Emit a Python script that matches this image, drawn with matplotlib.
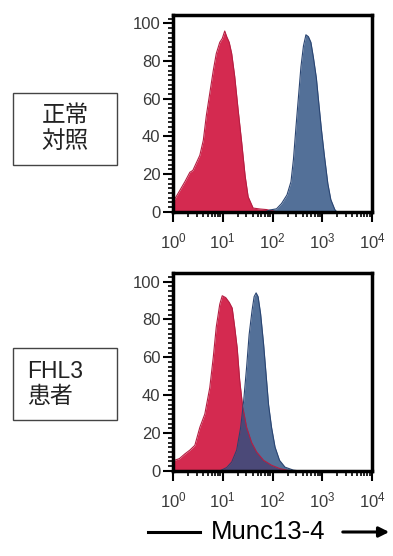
import numpy as np
import matplotlib.pyplot as plt
from matplotlib.patches import Rectangle, FancyArrowPatch
from matplotlib.ticker import MultipleLocator, LogLocator, NullFormatter

plt.rcParams['font.family'] = ['Liberation Sans', 'Noto Sans CJK JP', 'DejaVu Sans']
plt.rcParams['mathtext.default'] = 'regular'

# histogram outlines (x in log10 units, y = % of max)
ctrl_red_logx = [0.0, 0.0, 0.03, 0.13, 0.24, 0.34, 0.40, 0.47, 0.54, 0.61, 0.67, 0.74, 0.81,
                 0.87, 0.94, 0.99, 1.04, 1.08, 1.13, 1.18, 1.24, 1.31, 1.38, 1.45, 1.51,
                 1.61, 1.75, 1.88, 2.0, 2.08]
ctrl_red_y = [0, 26, 6.5, 11, 16, 21, 22, 26, 30, 38, 51, 63, 75,
              84, 90, 92, 96, 93, 90, 84, 72, 54, 37, 19, 8,
              2, 1.5, 1.2, 0.5, 0]
ctrl_blue_logx = [1.85, 1.95, 2.08, 2.18, 2.29, 2.37, 2.42, 2.47, 2.52, 2.57, 2.62, 2.67,
                  2.72, 2.77, 2.82, 2.88, 2.92, 2.98, 3.04, 3.11, 3.17, 3.25, 3.29]
ctrl_blue_y = [0, 1, 1.6, 4.4, 9, 16, 28, 45, 61, 77, 88, 94,
               93, 90, 82, 71, 60, 44, 30, 15, 6.5, 1.2, 0]

pt_red_logx = [0.0, 0.0, 0.03, 0.13, 0.24, 0.34, 0.44, 0.54, 0.64, 0.74, 0.81, 0.87, 0.94,
               0.99, 1.06, 1.13, 1.19, 1.24, 1.29, 1.34, 1.40, 1.48, 1.58, 1.68, 1.82,
               1.98, 2.15, 2.35]
pt_red_y = [0, 12, 5.6, 6.5, 9, 11, 13.5, 23, 30, 44, 60, 76, 88,
            92.5, 91.5, 89, 86, 76, 65, 48, 34, 23, 15, 10, 5.6,
            3, 1.2, 0]
pt_blue_logx = [0.94, 1.08, 1.18, 1.28, 1.36, 1.42, 1.48, 1.53, 1.59, 1.63, 1.67, 1.71,
                1.76, 1.82, 1.87, 1.92, 1.98, 2.05, 2.14, 2.25, 2.42, 2.55]
pt_blue_y = [0, 1.8, 4.7, 11, 23, 37, 55, 72, 85, 92, 94, 92,
             83, 67, 51, 35, 23, 12.6, 5.6, 2, 0.4, 0]

panels = [
    ('正常\n対照', 'center', ctrl_red_logx, ctrl_red_y, ctrl_blue_logx, ctrl_blue_y),
    ('FHL3\n患者', 'left', pt_red_logx, pt_red_y, pt_blue_logx, pt_blue_y),
]

red = '#D42A50'
red_edge = '#B51E42'
blue = '#2D5082'
blue_edge = '#2A4572'
tick_color = '#3a3a3a'

fig = plt.figure(figsize=(3.93, 5.56), dpi=100)
ax_rects = [[0.440, 0.619, 0.507, 0.354], [0.440, 0.153, 0.507, 0.356]]
box_rects = [[0.033, 0.703, 0.265, 0.130], [0.033, 0.245, 0.265, 0.129]]

for (label, align, rx, ry, bx, by), rect, box in zip(panels, ax_rects, box_rects):
    ax = fig.add_axes(rect)
    rxv = 10 ** np.array(rx)
    bxv = 10 ** np.array(bx)
    ax.fill_between(rxv, ry, color=red, lw=0)
    ax.plot(rxv, ry, color=red_edge, lw=0.8)
    ax.fill_between(bxv, by, color=blue, alpha=0.82, lw=0)
    ax.plot(bxv, by, color=blue_edge, lw=0.8)

    ax.set_xscale('log')
    ax.set_xlim(1, 1e4)
    ax.set_ylim(0, 104.5)
    ax.set_yticks([0, 20, 40, 60, 80, 100])
    ax.yaxis.set_minor_locator(MultipleLocator(2.5))
    ax.xaxis.set_minor_locator(LogLocator(base=10, subs=np.arange(2, 10), numticks=10))
    ax.xaxis.set_minor_formatter(NullFormatter())
    ax.set_xticks([1, 10, 100, 1000, 10000])
    ax.set_xticklabels([r'$10^0$', r'$10^1$', r'$10^2$', r'$10^3$', r'$10^4$'])

    for s in ax.spines.values():
        s.set_linewidth(2.5)
        s.set_color('black')
    ax.tick_params(axis='both', which='major', direction='out', length=7, width=1.5,
                   colors='black', labelcolor=tick_color, labelsize=12)
    ax.tick_params(axis='both', which='minor', direction='out', length=3.5, width=1.2,
                   colors='black')
    ax.tick_params(axis='x', which='major', pad=7)
    ax.tick_params(axis='y', which='major', pad=2)

    fig.patches.append(Rectangle((box[0], box[1]), box[2], box[3], transform=fig.transFigure,
                                 fill=False, edgecolor='#444444', lw=1))
    if align == 'center':
        fig.text(box[0] + box[2] / 2, box[1] + box[3] / 2, label, ha='center', va='center',
                 fontsize=17, linespacing=1.2, color='#222222')
    else:
        fig.text(box[0] + 0.037, box[1] + box[3] / 2, label, ha='left', va='center',
                 fontsize=16.5, linespacing=1.15, color='#222222')

# axis label with arrows
y_lab = 1 - 532 / 556
fig.text(0.682, y_lab, 'Munc13-4', ha='center', va='center', fontsize=18.5)
fig.add_artist(plt.Line2D([148 / 393, 200 / 393], [y_lab, y_lab], color='black', lw=2.2,
                          transform=fig.transFigure))
fig.patches.append(FancyArrowPatch(
    (340 / 393, y_lab), (392 / 393, y_lab), transform=fig.transFigure,
    arrowstyle='-|>', mutation_scale=15, color='black', lw=2.2))

fig.savefig('out.png', dpi=100)
